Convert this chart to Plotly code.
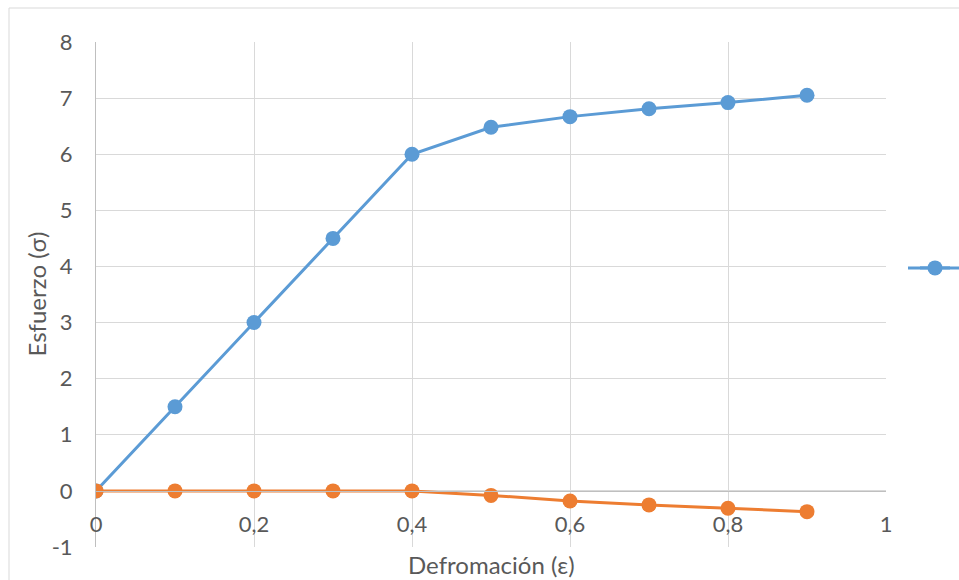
import plotly.graph_objects as go

# Deformación (ε) y esfuerzo (σ)
deformacion = [0, 0.1, 0.2, 0.3, 0.4, 0.5, 0.6, 0.7, 0.8, 0.9]
esfuerzo = [0, 1.5, 3, 4.5, 6, 6.48, 6.67, 6.81, 6.92, 7.05]
esfuerzo_2 = [0, 0, 0, 0, 0, -0.08, -0.18, -0.25, -0.31, -0.37]

x_ticks = [0, 0.2, 0.4, 0.6, 0.8, 1]
x_tick_text = ["0", "0,2", "0,4", "0,6", "0,8", "1"]
y_ticks = [-1, 0, 1, 2, 3, 4, 5, 6, 7, 8]
y_tick_text = ["-1", "0", "1", "2", "3", "4", "5", "6", "7", "8"]

BLUE = "#5b9bd5"
ORANGE = "#ed7d31"
GRID = "#d9d9d9"
AXIS = "#bfbfbf"
TEXT = "#595959"
FONT = "Lato, 'Open Sans', sans-serif"
TICK_SIZE = 22
TITLE_SIZE = 24

y_min, y_max = -1, 8

fig = go.Figure()
fig.add_trace(go.Scatter(
    x=deformacion, y=esfuerzo, mode="lines+markers", name=" ",
    line=dict(color=BLUE, width=3), marker=dict(color=BLUE, size=15),
))
fig.add_trace(go.Scatter(
    x=deformacion, y=esfuerzo_2, mode="lines+markers", name="Serie 2",
    line=dict(color=ORANGE, width=3), marker=dict(color=ORANGE, size=15),
    showlegend=False,
))

W, H = 959, 580
ml, mr, mt, mb = 96, 73, 42, 33
pw, ph = W - ml - mr, H - mt - mb

def px_x(p):
    return (p - ml) / pw

def px_y(p):
    return (H - mb - p) / ph

fig.update_layout(
    width=W, height=H,
    margin=dict(l=ml, r=mr, t=mt, b=mb, autoexpand=False),
    paper_bgcolor="white", plot_bgcolor="white",
    font=dict(family=FONT, size=TICK_SIZE, color=TEXT),
    separators=",.",
    xaxis=dict(
        range=[0, 1], tickvals=x_ticks, ticktext=x_tick_text,
        showgrid=True, gridcolor=GRID, gridwidth=1,
        zeroline=False, showline=True, linecolor=AXIS, linewidth=1,
        anchor="free", position=(0 - y_min) / (y_max - y_min),
        ticks="", ticklabelstandoff=14,
        tickfont=dict(family=FONT, size=TICK_SIZE, color=TEXT),
    ),
    yaxis=dict(
        range=[y_min, y_max], tickvals=y_ticks, ticktext=y_tick_text,
        showgrid=True, gridcolor=GRID, gridwidth=1,
        zeroline=False, showline=True, linecolor=AXIS, linewidth=1,
        ticks="", ticklabelstandoff=18,
        tickfont=dict(family=FONT, size=TICK_SIZE, color=TEXT),
    ),
    legend=dict(
        x=px_x(915), y=px_y(268), xanchor="left", yanchor="middle",
        bgcolor="rgba(0,0,0,0)", borderwidth=0,
        font=dict(family=FONT, size=16, color=TEXT),
    ),
    shapes=[
        dict(
            type="rect", xref="paper", yref="paper", layer="below",
            x0=px_x(9), x1=px_x(975), y0=px_y(595), y1=px_y(8),
            line=dict(color=GRID, width=1), fillcolor="rgba(0,0,0,0)",
        ),
        # legend sample line, extended to the window edge
        dict(
            type="line", xref="paper", yref="paper", layer="below",
            x0=px_x(908), x1=px_x(965), y0=px_y(268), y1=px_y(268),
            line=dict(color=BLUE, width=3),
        ),
    ],
    annotations=[
        dict(
            text="Defromación (ε)", xref="paper", yref="paper",
            x=0.5, y=px_y(564), xanchor="center", yanchor="middle",
            showarrow=False, font=dict(family=FONT, size=TITLE_SIZE, color=TEXT),
        ),
        dict(
            text="Esfuerzo (σ)", xref="paper", yref="paper", textangle=-90,
            x=px_x(36), y=0.5, xanchor="center", yanchor="middle",
            showarrow=False, font=dict(family=FONT, size=TITLE_SIZE, color=TEXT),
        ),
    ],
)

fig.write_html("out.html")
